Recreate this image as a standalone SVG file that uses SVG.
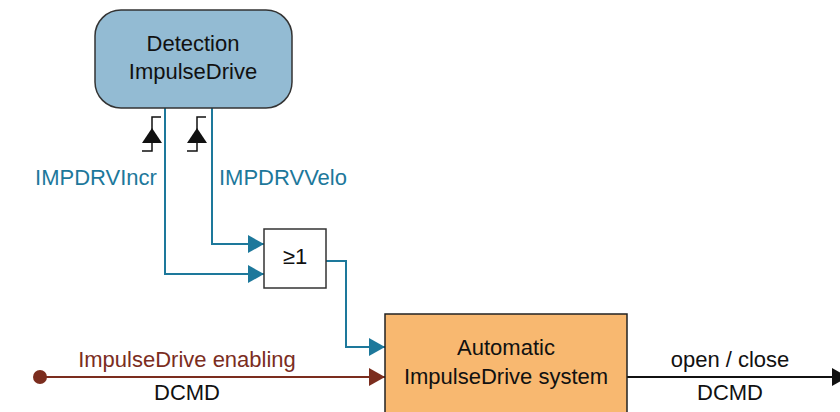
<svg xmlns="http://www.w3.org/2000/svg" width="840" height="412" viewBox="0 0 840 412">
<style>
text{font-family:"Liberation Sans",Arial,sans-serif;font-size:22px;text-anchor:middle;fill:#111}
.blue{fill:#1d789b}
.brown{fill:#7b2d1e}
.lb{fill:none;stroke:#1d789b;stroke-width:2}
.lr{fill:none;stroke:#7b2d1e;stroke-width:2}
.lk{fill:none;stroke:#111;stroke-width:2}
.edge{fill:none;stroke:#111;stroke-width:1.5}
</style>
<defs>
<marker id="ab" markerWidth="16" markerHeight="18" refX="16" refY="9" orient="auto" markerUnits="userSpaceOnUse"><path d="M0,0 L16,9 L0,18 Z" fill="#1d789b"/></marker>
<marker id="ar" markerWidth="16" markerHeight="18" refX="16" refY="9" orient="auto" markerUnits="userSpaceOnUse"><path d="M0,0 L16,9 L0,18 Z" fill="#7b2d1e"/></marker>
<marker id="ak" markerWidth="16" markerHeight="18" refX="16" refY="9" orient="auto" markerUnits="userSpaceOnUse"><path d="M0,0 L16,9 L0,18 Z" fill="#111"/></marker>
</defs>
<rect width="840" height="412" fill="#fff"/>
<g id="connectors">
<path class="lb" d="M212,108 V244 H264" marker-end="url(#ab)"/>
<path class="lb" d="M165,108 V274 H264" marker-end="url(#ab)"/>
<path class="lb" d="M326,261 H346 V347 H385" marker-end="url(#ab)"/>
<path class="lr" d="M40,377 H385" marker-end="url(#ar)"/>
<circle cx="40" cy="377" r="7" fill="#7b2d1e"/>
<path class="lk" d="M627,377 H848" marker-end="url(#ak)"/>
<path class="edge" d="M161,117 H152 V151 H142"/>
<path d="M152,128 L162,143 L142,143 Z" fill="#111"/>
<path class="edge" d="M206,117 H197 V151 H187"/>
<path d="M197,128 L207,143 L187,143 Z" fill="#111"/>
<text class="blue" x="96" y="185">IMPDRVIncr</text>
<text class="blue" x="283" y="185">IMPDRVVelo</text>
<text class="brown" x="187" y="367">ImpulseDrive enabling</text>
<text x="187" y="400">DCMD</text>
<text x="730" y="367">open / close</text>
<text x="730" y="400">DCMD</text>
</g>
<g id="detection">
<rect x="95" y="10" width="197" height="98" rx="26" ry="26" fill="#93bbd3" stroke="#333" stroke-width="1.5"/>
<text x="193" y="51">Detection</text>
<text x="193" y="79">ImpulseDrive</text>
</g>
<g id="or">
<rect x="264" y="229" width="62" height="59" fill="#fff" stroke="#333" stroke-width="1.5"/>
<text x="295" y="264">≥1</text>
</g>
<g id="automatic">
<rect x="385" y="314" width="242" height="110" fill="#f8b870" stroke="#222" stroke-width="1.5"/>
<text x="506" y="355">Automatic</text>
<text x="506" y="384">ImpulseDrive system</text>
</g>
</svg>
